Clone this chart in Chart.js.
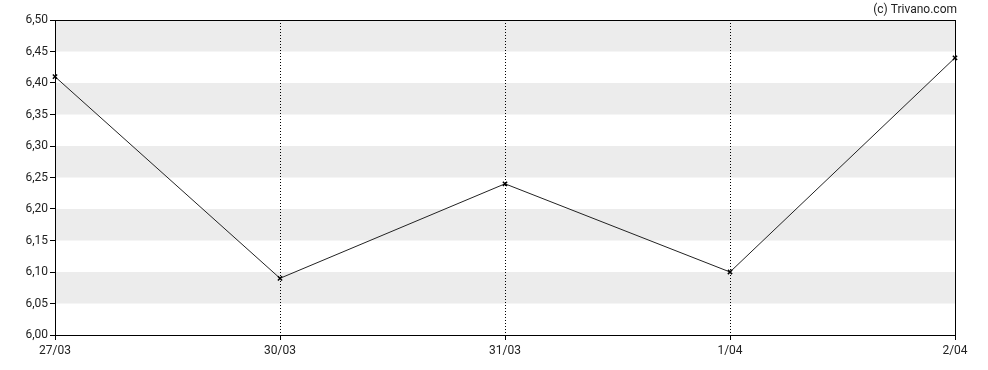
<!DOCTYPE html>
<html><head><meta charset="utf-8">
<script src="https://cdn.jsdelivr.net/npm/chart.js@4/dist/chart.umd.min.js"></script>
<style>html,body{margin:0;padding:0;background:#fff}#wrap{width:988px;height:370px}</style>
</head><body><div id="wrap"><canvas id="c"></canvas></div>
<script>
const categories = ["27/03", "30/03", "31/03", "1/04", "2/04"];
const prices = [6.41, 6.09, 6.24, 6.10, 6.44];
const yMin = 6.00, yMax = 6.50, yStep = 0.05;
const creditText = "(c) Trivano.com";

const FONT = "Roboto";
const bands = {
  id: 'bands',
  beforeDraw(chart) {
    const {ctx, chartArea: a, scales: {y}} = chart;
    ctx.save();
    ctx.fillStyle = '#ececec';
    const ticks = y.ticks.map(t => t.value).sort((p, q) => q - p);
    for (let i = 0; i < ticks.length - 1; i += 2) {
      const t1 = y.getPixelForValue(ticks[i]);
      const t2 = y.getPixelForValue(ticks[i + 1]);
      ctx.fillRect(a.left, t1, a.right - a.left, t2 - t1);
    }
    ctx.restore();
  },
  afterDraw(chart) {
    const {ctx, chartArea: a} = chart;
    ctx.save();
    ctx.strokeStyle = '#000';
    ctx.lineWidth = 1;
    ctx.strokeRect(Math.round(a.left) + 0.5, Math.round(a.top) + 0.5, Math.round(a.right - a.left), Math.round(a.bottom - a.top));
    ctx.fillStyle = '#222';
    ctx.font = '12px ' + FONT;
    ctx.textAlign = 'right';
    ctx.textBaseline = 'alphabetic';
    ctx.fillText(creditText, 957, 13);
    ctx.restore();
  }
};

new Chart(document.getElementById('c'), {
  type: 'line',
  data: {
    labels: categories,
    datasets: [{
      data: prices,
      borderColor: '#222',
      borderWidth: 1,
      pointStyle: 'crossRot',
      pointRadius: 3,
      pointBorderColor: '#000',
      pointBorderWidth: 1.5,
      tension: 0,
      fill: false
    }]
  },
  options: {
    responsive: true,
    maintainAspectRatio: false,
    animation: false,
    layout: {padding: {top: 20, right: 33, left: 0, bottom: 0}},
    plugins: {legend: {display: false}, tooltip: {enabled: false}},
    scales: {
      x: {
        type: 'category',
        offset: false,
        grid: {color: '#000', lineWidth: 1, drawTicks: true, tickLength: 5, tickBorderDash: [], tickColor: '#000'},
        border: {display: true, color: '#000', dash: [1, 2]},
        ticks: {color: '#222', font: {family: FONT, size: 12}, padding: 4, maxRotation: 0, autoSkip: false},
        afterFit(s) { s.height = 35; }
      },
      y: {
        min: yMin, max: yMax,
        grid: {drawOnChartArea: false, drawTicks: true, tickLength: 5, color: '#000'},
        border: {display: true, color: '#000'},
        ticks: {
          stepSize: yStep, color: '#222', font: {family: FONT, size: 12}, padding: 2,
          callback: v => v.toFixed(2).replace('.', ',')
        },
        afterFit(s) { s.width = 55; }
      }
    }
  },
  plugins: [bands]
});
</script></body></html>
